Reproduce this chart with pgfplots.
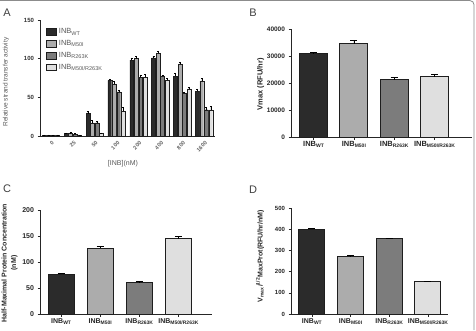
\documentclass[border=0pt]{standalone}
\usepackage{pgfplots}
\pgfplotsset{compat=1.18}
\usepackage{fontspec}
\setmainfont{Liberation Sans}
\definecolor{cWT}{HTML}{2B2B2B}
\definecolor{cM}{HTML}{ACACAC}
\definecolor{cR}{HTML}{7C7C7C}
\definecolor{cD}{HTML}{DFDFDF}
\definecolor{edge}{HTML}{1E1E1E}
\newcommand{\sub}[1]{\raisebox{-0.35ex}{\fontsize{5}{5}\selectfont #1}}
\newcommand{\subA}[1]{\raisebox{-0.35ex}{\fontsize{5.5}{5}\selectfont #1}}
\pgfplotsset{prism/.style={
  scale only axis,
  axis x line=bottom, axis y line=left,
  axis line style={-, line width=0.7pt, black!85},
  tick align=outside, major tick length=2.5pt,
  tick style={line width=0.6pt, black!85},
  ymin=0,
  scaled y ticks=false,
  /pgf/number format/assume math mode=true,
  /pgf/number format/1000 sep={},
  clip=false,
  ylabel style={anchor=center},
}}
\pgfplotstableread{
x wt wte m me r re d de
0 1 0.5 1 0.5 1 0.5 1 0.4
1 3 1 3.5 1 2.5 1 1 0.4
2 29 3 17 3 17 2 3 1
3 72 2 67 4 57 2 32 5
4 98 3 100 3 76 3 76 4
5 101 2 107 3 77 2 72 3
6 77 4 93 3 55 2 61 2
7 58 3 71 4 34 3 34 4
}\dataA
\begin{document}
\begin{tikzpicture}
\useasboundingbox (0pt,0pt) rectangle (476pt,330pt);
\draw[black!45, line width=0.8pt, rounded corners=4pt] (0pt,329.4pt) -- (474pt,329.4pt) -- (474pt,0pt);
% ---------------- A
\begin{axis}[prism, at={(40pt,194pt)}, anchor=south west, width=175pt, height=116pt,
  xmin=-0.5, xmax=7.5, ymax=150, ytick={0,50,100,150},
  y tick label style={font=\fontsize{6}{7}\selectfont\bfseries, text=black!80},
  xtick={0,...,7}, xticklabels={0,25,50,100,200,400,800,1600},
  x tick label style={rotate=45, anchor=north east, font=\fontsize{5.5}{6}\selectfont\bfseries, text=black!60, yshift=-1pt, inner sep=1pt},
  xtick style={draw=none},
  ybar=0.7pt, bar width=3.8pt,
  ylabel={Relative strand transfer activity},
  ylabel style={at={(axis description cs:-0.194,0.466)}, font=\fontsize{6.5}{7}\selectfont, text=black!65},
  xlabel={[INB](nM)},
  xlabel style={at={(axis description cs:0.474,-0.24)}, anchor=center, font=\fontsize{7}{8}\selectfont, text=black!65},
  legend style={at={(axis description cs:0.035,0.945)}, anchor=north west, draw=none, fill=none,
    font=\fontsize{7.5}{8}\selectfont, text=black!65, row sep=1.2pt, inner sep=0pt},
  legend cell align=left,
  legend image code/.code={\draw[#1, line width=0.6pt] (0pt,-3.2pt) rectangle (10pt,3.6pt);},
  error bars/error bar style={line width=0.5pt, black},
  error bars/error mark options={rotate=90, mark size=1pt, line width=0.5pt, black},
]
\addplot[fill=cWT, draw=edge, line width=0.4pt, error bars/.cd, y dir=plus, y explicit] table[x=x, y=wt, y error=wte] {\dataA};
\addplot[fill=cM, draw=edge, line width=0.4pt, error bars/.cd, y dir=plus, y explicit] table[x=x, y=m, y error=me] {\dataA};
\addplot[fill=cR, draw=edge, line width=0.4pt, error bars/.cd, y dir=plus, y explicit] table[x=x, y=r, y error=re] {\dataA};
\addplot[fill=cD, draw=edge, line width=0.4pt, error bars/.cd, y dir=plus, y explicit] table[x=x, y=d, y error=de] {\dataA};
\legend{INB\subA{WT}, INB\subA{M50I}, INB\subA{R263K}, INB\subA{M50I/R263K}}
\end{axis}
% ---------------- B
\begin{axis}[prism, at={(291pt,193pt)}, anchor=south west, width=181pt, height=108pt,
  xmin=-0.56, xmax=3.93, ymax=40000, ytick={0,10000,20000,30000,40000},
  y tick label style={font=\fontsize{6.5}{7}\selectfont\bfseries, text=black!85},
  xtick={0,1,2,3}, xticklabels={INB\sub{WT}, INB\sub{M50I}, INB\sub{R263K}, INB\sub{M50I/R263K}},
  x tick label style={font=\fontsize{7.5}{8}\selectfont\bfseries, text=black!85, inner sep=1.5pt},
  ybar, bar width=28pt,
  ylabel={Vmax (RFU/hr)},
  ylabel style={at={(axis description cs:-0.167,0.49)}, font=\fontsize{7.5}{8}\selectfont\bfseries, text=black!85},
  error bars/error bar style={line width=0.7pt, black},
  error bars/error mark options={rotate=90, mark size=3.5pt, line width=0.7pt, black},
]
\addplot[bar shift=0pt, fill=cWT, draw=edge, line width=0.9pt, error bars/.cd, y dir=plus, y explicit] coordinates {(0,30800) +- (0,500)};
\addplot[bar shift=0pt, fill=cM, draw=edge, line width=0.9pt, error bars/.cd, y dir=plus, y explicit] coordinates {(1,34500) +- (0,1200)};
\addplot[bar shift=0pt, fill=cR, draw=edge, line width=0.9pt, error bars/.cd, y dir=plus, y explicit] coordinates {(2,21200) +- (0,1000)};
\addplot[bar shift=0pt, fill=cD, draw=edge, line width=0.9pt, error bars/.cd, y dir=plus, y explicit] coordinates {(3,22300) +- (0,800)};
\end{axis}
% ---------------- C
\begin{axis}[prism, at={(40pt,16pt)}, anchor=south west, width=172pt, height=104pt,
  xmin=-0.54, xmax=3.86, ymax=200, ytick={0,50,100,150,200},
  y tick label style={font=\fontsize{7}{8}\selectfont\bfseries, text=black!85},
  xtick={0,1,2,3}, xticklabels={INB\sub{WT}, INB\sub{M50I}, INB\sub{R263K}, INB\sub{M50I/R263K}},
  x tick label style={font=\fontsize{7}{8}\selectfont\bfseries, text=black!85, inner sep=1.5pt},
  ybar, bar width=26pt,
  ylabel={Half-Maximal Protein Concentration\\(nM)},
  ylabel style={at={(axis description cs:-0.177,0.49)}, align=center, font=\fontsize{7}{9.5}\selectfont\bfseries, text=black!85},
  error bars/error bar style={line width=0.7pt, black},
  error bars/error mark options={rotate=90, mark size=3.5pt, line width=0.7pt, black},
]
\addplot[bar shift=0pt, fill=cWT, draw=edge, line width=0.9pt, error bars/.cd, y dir=plus, y explicit] coordinates {(0,77) +- (0,1)};
\addplot[bar shift=0pt, fill=cM, draw=edge, line width=0.9pt, error bars/.cd, y dir=plus, y explicit] coordinates {(1,127) +- (0,3)};
\addplot[bar shift=0pt, fill=cR, draw=edge, line width=0.9pt, error bars/.cd, y dir=plus, y explicit] coordinates {(2,60) +- (0,2)};
\addplot[bar shift=0pt, fill=cD, draw=edge, line width=0.9pt, error bars/.cd, y dir=plus, y explicit] coordinates {(3,145) +- (0,4)};
\end{axis}
% ---------------- D
\begin{axis}[prism, at={(291pt,16pt)}, anchor=south west, width=157pt, height=106pt,
  xmin=-0.54, xmax=3.52, ymax=500, ytick={0,100,200,300,400,500},
  y tick label style={font=\fontsize{6}{7}\selectfont\bfseries, text=black!85},
  xtick={0,1,2,3}, xticklabels={INB\sub{WT}, INB\sub{M50I}, INB\sub{R263K}, INB\sub{M50I/R263K}},
  x tick label style={font=\fontsize{7}{8}\selectfont\bfseries, text=black!85, inner sep=1.5pt},
  ybar, bar width=26pt,
  ylabel={V\textsubscript{max}/\textsuperscript{1/2}MaxProt(RFU/hr/nM)},
  ylabel style={at={(axis description cs:-0.197,0.547)}, font=\fontsize{7}{8}\selectfont\bfseries, text=black!85},
  error bars/error bar style={line width=0.7pt, black},
  error bars/error mark options={rotate=90, mark size=3.5pt, line width=0.7pt, black},
]
\addplot[bar shift=0pt, fill=cWT, draw=edge, line width=0.9pt, error bars/.cd, y dir=plus, y explicit] coordinates {(0,400) +- (0,5)};
\addplot[bar shift=0pt, fill=cM, draw=edge, line width=0.9pt, error bars/.cd, y dir=plus, y explicit] coordinates {(1,272) +- (0,3)};
\addplot[bar shift=0pt, fill=cR, draw=edge, line width=0.9pt, error bars/.cd, y dir=plus, y explicit] coordinates {(2,355) +- (0,3)};
\addplot[bar shift=0pt, fill=cD, draw=edge, line width=0.9pt, error bars/.cd, y dir=plus, y explicit] coordinates {(3,153) +- (0,2)};
\end{axis}
% panel letters
\node[font=\fontsize{11}{12}\selectfont, text=black!75] at (7pt,317pt) {A};
\node[font=\fontsize{11}{12}\selectfont, text=black!75] at (253pt,317pt) {B};
\node[font=\fontsize{11}{12}\selectfont, text=black!75] at (7pt,141pt) {C};
\node[font=\fontsize{11}{12}\selectfont, text=black!75] at (253pt,140pt) {D};
\end{tikzpicture}
\end{document}
